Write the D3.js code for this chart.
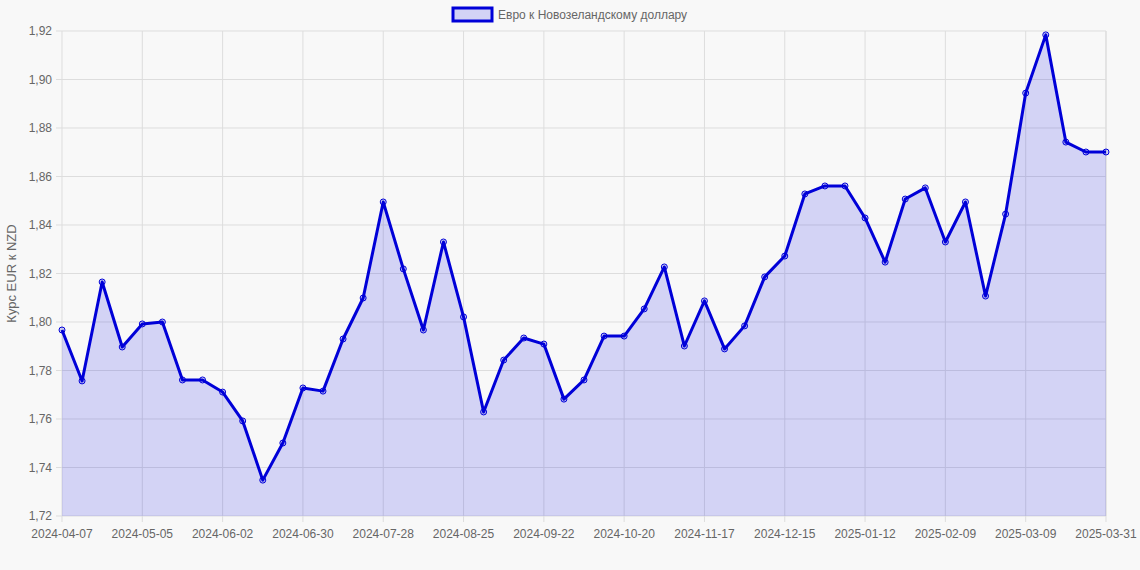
<!DOCTYPE html>
<html><head><meta charset="utf-8">
<script src="https://cdn.jsdelivr.net/npm/d3@7"></script>
<style>body{margin:0;background:#f8f8f8}svg{display:block;font-family:"Liberation Sans",Arial,sans-serif}</style>
</head><body><svg id="c" width="1140" height="570"></svg>
<script>
const dates=["2024-04-07","2024-04-14","2024-04-21","2024-04-28","2024-05-05","2024-05-12","2024-05-19","2024-05-26","2024-06-02","2024-06-09","2024-06-16","2024-06-23","2024-06-30","2024-07-07","2024-07-14","2024-07-21","2024-07-28","2024-08-04","2024-08-11","2024-08-18","2024-08-25","2024-09-01","2024-09-08","2024-09-15","2024-09-22","2024-09-29","2024-10-06","2024-10-13","2024-10-20","2024-10-27","2024-11-03","2024-11-10","2024-11-17","2024-11-24","2024-12-01","2024-12-08","2024-12-15","2024-12-22","2024-12-29","2025-01-05","2025-01-12","2025-01-19","2025-01-26","2025-02-02","2025-02-09","2025-02-16","2025-02-23","2025-03-02","2025-03-09","2025-03-16","2025-03-23","2025-03-30","2025-03-31"];
const values=[1.7967,1.7757,1.8165,1.7897,1.7992,1.8000,1.7761,1.7761,1.7711,1.7592,1.7348,1.7501,1.7728,1.7715,1.7930,1.8099,1.8495,1.8219,1.7967,1.8330,1.8021,1.7629,1.7843,1.7934,1.7909,1.7682,1.7761,1.7942,1.7942,1.8054,1.8227,1.7901,1.8087,1.7889,1.7984,1.8186,1.8272,1.8528,1.8561,1.8561,1.8429,1.8247,1.8507,1.8553,1.8330,1.8495,1.8107,1.8445,1.8944,1.9184,1.8742,1.8701,1.8701];
const yTicks=[1.72,1.74,1.76,1.78,1.80,1.82,1.84,1.86,1.88,1.90,1.92];
const seriesName="Евро к Новозеландскому доллару";
const yTitle="Курс EUR к NZD";

const svg=d3.select("#c");
const L=62,R=1106,T=31,B=516;
const x=d3.scalePoint().domain(dates).range([L,R]);
const y=d3.scaleLinear().domain([1.72,1.92]).range([B,T]);
const tickDates=dates.filter((d,i)=>i%4===0||i===dates.length-1);
const fmt=v=>v.toFixed(2).replace(".",",");

const g=svg.append("g");
g.selectAll(".hg").data(yTicks).join("line").attr("x1",L-6).attr("x2",R).attr("y1",d=>y(d)).attr("y2",d=>y(d)).attr("stroke","#ddd");
g.selectAll(".vg").data(tickDates).join("line").attr("x1",d=>x(d)).attr("x2",d=>x(d)).attr("y1",T).attr("y2",B+6).attr("stroke","#ddd");
g.append("line").attr("x1",R).attr("x2",R).attr("y1",T).attr("y2",B).attr("stroke","#ddd");
g.selectAll(".yl").data(yTicks).join("text").attr("x",L-10).attr("y",d=>y(d)+4).attr("text-anchor","end").attr("font-size",12).attr("fill","#666").text(fmt);
g.selectAll(".xl").data(tickDates).join("text").attr("x",d=>x(d)).attr("y",B+22).attr("text-anchor","middle").attr("font-size",12).attr("fill","#666").text(d=>d);
svg.append("text").attr("transform",`translate(16,${(T+B)/2}) rotate(-90)`).attr("text-anchor","middle").attr("font-size",13).attr("fill","#666").text(yTitle);

const area=d3.area().x((d,i)=>x(dates[i])).y0(B).y1(d=>y(d));
const line=d3.line().x((d,i)=>x(dates[i])).y(d=>y(d));
svg.append("path").datum(values).attr("d",area).attr("fill","rgba(0,0,230,0.15)");
svg.append("path").datum(values).attr("d",line).attr("fill","none").attr("stroke","#0000d8").attr("stroke-width",3).attr("stroke-linejoin","round");
svg.selectAll(".pt").data(values).join("circle").attr("cx",(d,i)=>x(dates[i])).attr("cy",d=>y(d)).attr("r",3).attr("fill","rgba(0,0,230,0.15)").attr("stroke","#0000d8").attr("stroke-width",1);

const lg=svg.append("g");
lg.append("rect").attr("x",453).attr("y",8).attr("width",39).attr("height",13).attr("fill","rgba(0,0,230,0.15)").attr("stroke","#0000d8").attr("stroke-width",3);
lg.append("text").attr("x",498).attr("y",19).attr("font-size",12).attr("fill","#666").text(seriesName);
</script></body></html>
